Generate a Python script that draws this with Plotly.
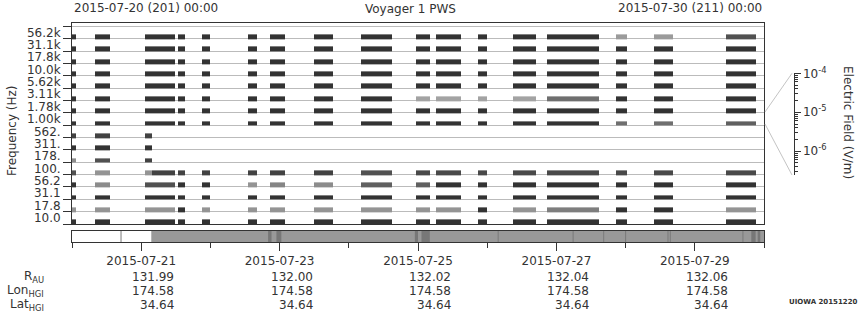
import plotly.graph_objects as go
from datetime import datetime, timedelta

# ---------------- data ----------------
T0 = datetime(2015, 7, 20)
T_END_H = 240.0  # 10 days

channel_labels = ['10.0', '17.8', '31.1', '56.2', '100.', '178.', '311.', '562.',
                  '1.00k', '1.78k', '3.11k', '5.62k', '10.0k', '17.8k', '31.1k', '56.2k']

# data segments (hours after 2015-07-20 00:00)
seg_start_h = [0.0, 7.9, 25.2, 27.6, 36.8, 45.1, 61.0, 68.6, 83.8, 100.1,
               119.2, 126.1, 140.7, 152.8, 164.6, 188.6, 201.7, 226.7]
seg_end_h = [1.3, 13.1, 27.6, 35.6, 39.1, 47.8, 64.3, 73.8, 90.4, 110.9,
             124.1, 134.8, 143.8, 160.8, 182.7, 192.4, 208.3, 237.1]

# relative intensity per channel per segment (0 light .. 1 dark, None = no data)
lvl_56k2 = [1, 1, 1, 1, 1, 1, 1, 1, 1, 1, 1, 1, 1, 1, 1, 0.3, 0.3, 0.8]
lvl_31k1 = [1, 1, 1, 1, 1, 1, 1, 1, 1, 1, 1, 1, 1, 1, 1, 1, 1, 1]
lvl_17k8 = [1, 1, 1, 1, 1, 1, 1, 1, 1, 1, 1, 1, 1, 1, 1, 1, 1, 1]
lvl_10k0 = [1, 1, 1, 1, 1, 1, 1, 1, 1, 1, 1, 1, 1, 1, 1, 1, 1, 1]
lvl_5k62 = [1, 1, 1, 1, 1, 1, 1, 1, 1, 1, 1, 1, 1, 1, 1, 1, 1, 1]
lvl_3k11 = [1, 1, 1, 1, 1, 1, 1, 1, 1, 1, 0.25, 0.25, 0.25, 0.25, 0.6, 1, 1, 1]
lvl_1k78 = [1, 1, 1, 1, 1, 1, 1, 1, 1, 1, 1, 1, 1, 1, 1, 1, 1, 1]
lvl_1k00 = [1, 1, 1, 1, 1, 1, 1, 1, 1, 1, 1, 1, 1, 1, 1, 0.6, 0.6, 0.7]
lvl_562 = [0.9, 0.9, 0.9] + [None] * 15
lvl_311 = [1, 1, 1] + [None] * 15
lvl_178 = [0.4, 0.8, 0.9] + [None] * 15
lvl_100 = [0.8, 0.35, 0.35, 0.9, 0.9, 0.9, 0.9, 0.9, 0.9, 0.8, 0.85, 0.85, 0.85, 0.85, 0.85, 0.85, 0.85, 0.85]
lvl_56_2 = [1, 0.4, 0.8, 0.8, 1, 1, 0.35, 0.45, 0.4, 0.7, 0.7, 1, 1, 1, 1, 1, 1, 1]
lvl_31_1 = [1, 1, 1, 1, 1, 1, 1, 1, 1, 1, 1, 1, 1, 1, 1, 1, 1, 1]
lvl_17_8 = [0.35, 0.35, 0.35, 0.35, 1, 0.35, 0.35, 0.35, 0.35, 0.35, 0.35, 0.35, 1, 0.35, 0.5, 1, 1, 0.35]
lvl_10_0 = [1, 1, 1, 1, 1, 1, 1, 1, 1, 1, 1, 1, 1, 1, 1, 1, 1, 1]

levels_by_channel = [lvl_10_0, lvl_17_8, lvl_31_1, lvl_56_2, lvl_100, lvl_178, lvl_311, lvl_562,
                     lvl_1k00, lvl_1k78, lvl_3k11, lvl_5k62, lvl_10k0, lvl_17k8, lvl_31k1, lvl_56k2]

# timeline strip (hours)
tl_band_start_h = [27.5]
tl_band_end_h = [240.0]
tl_dark_start_h = [68.0, 70.9, 118.9, 121.2, 235.6, 237.8]
tl_dark_end_h = [69.2, 72.6, 120.0, 124.1, 237.1, 238.7]
tl_mark_h = [17.0, 147.8, 173.8, 184.4, 192.0, 206.7, 207.5, 232.7]

# ephemeris rows
eph_dates = ['2015-07-21', '2015-07-23', '2015-07-25', '2015-07-27', '2015-07-29']
eph_r_au = ['131.99', '132.00', '132.02', '132.04', '132.06']
eph_lon = ['174.58', '174.58', '174.58', '174.58', '174.58']
eph_lat = ['34.64', '34.64', '34.64', '34.64', '34.64']

# colour-bar axis (V/m, log)
cbar_range_log = [-6.61, -3.999]
cbar_tickvals = [1e-6, 1e-5, 1e-4]
cbar_ticktext = ['10<sup>-6</sup>', '10<sup>-5</sup>', '10<sup>-4</sup>']


def ts(h):
    return (T0 + timedelta(hours=h)).strftime('%Y-%m-%d %H:%M:%S')


# ---------------- geometry (px) ----------------
W, H = 860, 320
ML, MR, MT, MB = 72, 0, 23, 78
PW, PH = W - ML - MR, H - MT - MB


def px_x(p):
    return (p - ML) / PW


def px_y(p):
    return (H - MB - p) / PH


XD = px_x(764)
FONT = dict(family='DejaVu Sans', size=12, color='#333333')

# ---------------- heatmap grid ----------------
edges_h = sorted(set(seg_start_h + seg_end_h))
x_edges = [ts(h) for h in edges_h]
col_seg = []
for a, b in zip(edges_h[:-1], edges_h[1:]):
    idx = None
    for j, (s, e) in enumerate(zip(seg_start_h, seg_end_h)):
        if s <= a and b <= e:
            idx = j
            break
    col_seg.append(idx)

y_edges, z = [], []
for k, lv in enumerate(levels_by_channel):
    y_edges += [k - 0.04, k + 0.35]
    z.append([None if j is None else lv[j] for j in col_seg])
    z.append([None] * len(col_seg))
y_edges.append(16.0)

fig = go.Figure()
fig.add_trace(go.Heatmap(x=x_edges, y=y_edges, z=z, zmin=0, zmax=1,
                         colorscale=[[0, '#c8c8c8'], [1, '#333333']],
                         showscale=False, hoverinfo='skip', xaxis='x', yaxis='y'))
fig.add_trace(go.Scatter(x=[], y=[], xaxis='x', yaxis='y3', showlegend=False))
fig.add_trace(go.Scatter(x=[], y=[], xaxis='x2', yaxis='y2', showlegend=False))
fig.add_trace(go.Scatter(x=[], y=[], xaxis='x4', yaxis='y4', showlegend=False))

shapes = []
for s, e in zip(tl_band_start_h, tl_band_end_h):
    shapes.append(dict(type='rect', xref='x2', yref='y2', x0=ts(s), x1=ts(e), y0=0, y1=1,
                       fillcolor='#999999', line=dict(width=0), layer='below'))
for s, e in zip(tl_dark_start_h, tl_dark_end_h):
    shapes.append(dict(type='rect', xref='x2', yref='y2', x0=ts(s), x1=ts(e), y0=0, y1=1,
                       fillcolor='#777777', line=dict(width=0), layer='below'))
for m in tl_mark_h:
    shapes.append(dict(type='line', xref='x2', yref='y2', x0=ts(m), x1=ts(m), y0=0, y1=1,
                       line=dict(color='#7a7a7a', width=1), layer='below'))
# funnel lines to colour-bar axis
shapes.append(dict(type='line', xref='paper', yref='paper', x0=px_x(765), y0=px_y(112),
                   x1=px_x(792), y1=px_y(73.3), line=dict(color='#c4c4c4', width=1)))
shapes.append(dict(type='line', xref='paper', yref='paper', x0=px_x(765), y0=px_y(124),
                   x1=px_x(792), y1=px_y(175), line=dict(color='#c4c4c4', width=1)))

ann = []
ann.append(dict(text='2015-07-20 (201) 00:00', xref='paper', yref='paper', x=0, y=px_y(8),
                xanchor='left', yanchor='middle', showarrow=False, font=FONT))
ann.append(dict(text='Voyager 1 PWS', xref='paper', yref='paper', x=px_x(410), y=px_y(9),
                xanchor='center', yanchor='middle', showarrow=False, font=FONT))
ann.append(dict(text='2015-07-30 (211) 00:00', xref='paper', yref='paper', x=XD, y=px_y(8),
                xanchor='right', yanchor='middle', showarrow=False, font=FONT))
ann.append(dict(text='Frequency (Hz)', xref='paper', yref='paper', x=px_x(12), y=px_y(130),
                xanchor='center', yanchor='middle', textangle=-90, showarrow=False, font=FONT))
ann.append(dict(text='Electric Field (V/m)', xref='paper', yref='paper', x=px_x(848), y=px_y(122),
                xanchor='center', yanchor='middle', textangle=90, showarrow=False, font=FONT))
row_y = [px_y(277), px_y(291), px_y(305)]
row_names = ['R<sub>AU</sub>', 'Lon<sub>HGI</sub>', 'Lat<sub>HGI</sub>']
for name, yy in zip(row_names, row_y):
    ann.append(dict(text=name, xref='paper', yref='paper', x=px_x(46), y=yy,
                    xanchor='right', yanchor='middle', showarrow=False, font=FONT))
for vals, yy in zip([eph_r_au, eph_lon, eph_lat], row_y):
    for d, v in zip(eph_dates, vals):
        ann.append(dict(text=v, xref='x2', yref='paper', x=d, y=yy, xshift=35,
                        xanchor='right', yanchor='middle', showarrow=False, font=FONT))
ann.append(dict(text='<b>UIOWA 20151220</b>', xref='paper', yref='paper', x=1.0, y=px_y(302),
                xanchor='right', yanchor='middle', showarrow=False,
                font=dict(family='DejaVu Sans', size=7, color='#333333')))

fig.update_layout(
    width=W, height=H, margin=dict(l=ML, r=MR, t=MT, b=MB),
    paper_bgcolor='white', plot_bgcolor='white', showlegend=False,
    font=FONT, shapes=shapes, annotations=ann,
    xaxis=dict(domain=[0, XD], anchor='y', type='date', range=[ts(0), ts(T_END_H)],
               showticklabels=False, ticks='', showgrid=False, zeroline=False,
               showline=True, mirror=True, linecolor='#333333', linewidth=1),
    yaxis=dict(domain=[px_y(224), 1], anchor='x', range=[0, 16.27],
               tickmode='array', tickvals=list(range(17)), showticklabels=False,
               ticks='outside', ticklen=8, tickcolor='#333333',
               showgrid=True, gridcolor='#bbbbbb', gridwidth=1, zeroline=False,
               showline=True, mirror=True, linecolor='#333333', linewidth=1),
    yaxis3=dict(overlaying='y', anchor='x', side='left', range=[0, 16.27],
                tickmode='array', tickvals=[k + 0.5 for k in range(16)], ticktext=channel_labels,
                ticks='outside', ticklen=8, tickcolor='rgba(0,0,0,0)',
                showgrid=False, zeroline=False, showline=False, tickfont=FONT),
    xaxis2=dict(domain=[0, XD], anchor='y2', type='date', range=[ts(0), ts(T_END_H)],
                tick0='2015-07-21', dtick=2 * 86400000, tickformat='%Y-%m-%d',
                ticks='outside', ticklen=8, tickcolor='#333333', tickfont=FONT,
                minor=dict(ticks='outside', ticklen=5, dtick=86400000, tick0='2015-07-20',
                           tickcolor='#333333', showgrid=False),
                showgrid=False, zeroline=False,
                showline=True, mirror=True, linecolor='#333333', linewidth=1),
    yaxis2=dict(domain=[0, px_y(231)], anchor='x2', range=[0, 1], showticklabels=False,
                ticks='', showgrid=False, zeroline=False,
                showline=True, mirror=True, linecolor='#333333', linewidth=1),
    xaxis4=dict(domain=[px_x(780), px_x(793.5)], anchor='y4', visible=False, range=[0, 1]),
    yaxis4=dict(domain=[px_y(175), px_y(73.3)], anchor='x4', side='right', type='log',
                range=cbar_range_log, tickmode='array', tickvals=cbar_tickvals,
                ticktext=cbar_ticktext, ticks='outside', ticklen=6, tickcolor='#333333',
                minor=dict(ticks='outside', ticklen=3, dtick='D1', tickcolor='#333333',
                           showgrid=False),
                showgrid=False, zeroline=False, showline=True, linecolor='#333333',
                linewidth=1, tickfont=FONT),
)

fig.write_html('out.html')
